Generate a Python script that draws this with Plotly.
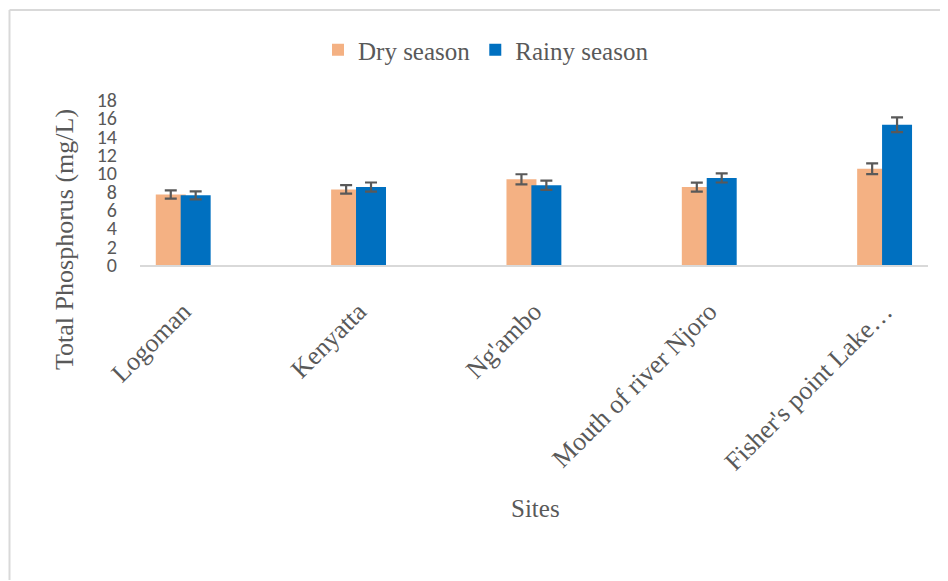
import plotly.graph_objects as go

sites = ["Logoman", "Kenyatta", "Ng'ambo", "Mouth of river Njoro", "Fisher's point Lake…"]
dry_values = [7.7, 8.25, 9.35, 8.5, 10.5]
rainy_values = [7.6, 8.5, 8.7, 9.5, 15.3]
dry_errors = [0.45, 0.47, 0.55, 0.49, 0.58]
rainy_errors = [0.43, 0.5, 0.5, 0.5, 0.8]
y_ticks = [0, 2, 4, 6, 8, 10, 12, 14, 16, 18]

serif = "Liberation Serif, Times New Roman, serif"
sans = "Carlito, Lato, sans-serif"
grey = "#595959"

# page body has an 8px margin: positions below are window pixels minus 8
L, T, W, H = 132, 92, 788, 165

def px(x):
    return (x - 8 - L) / W

def py(y):
    return (T + H - (y - 8)) / H

fig = go.Figure()
fig.add_trace(go.Bar(
    name="Dry season", x=list(range(len(sites))), y=dry_values,
    marker=dict(color="#F4B183", line=dict(width=0)),
    width=0.171, offset=-0.157,
    error_y=dict(type="data", array=dry_errors, visible=True,
                 color=grey, thickness=2.2, width=6),
))
fig.add_trace(go.Bar(
    name="Rainy season", x=list(range(len(sites))), y=rainy_values,
    marker=dict(color="#0070C0", line=dict(width=0)),
    width=0.171, offset=-0.015,
    error_y=dict(type="data", array=rainy_errors, visible=True,
                 color=grey, thickness=2.2, width=6),
))

frame = dict(color="#d9d9d9", width=2)

fig.update_layout(
    width=940, height=573,
    margin=dict(l=L, r=940 - L - W, t=T, b=573 - T - H),
    barmode="overlay",
    plot_bgcolor="white", paper_bgcolor="white",
    showlegend=True,
    legend=dict(orientation="h", x=px(486), xanchor="center", y=py(50), yanchor="middle",
                font=dict(family=serif, size=25, color=grey), itemwidth=30,
                traceorder="normal"),
    xaxis=dict(
        range=[-0.247, 4.247], tickmode="array", tickvals=list(range(len(sites))),
        ticktext=sites, tickangle=-45, showgrid=False, zeroline=False,
        showline=True, linecolor="#d9d9d9", linewidth=2, ticks="",
        tickfont=dict(family=serif, size=26, color=grey), ticklabelstandoff=19,
        fixedrange=True,
    ),
    yaxis=dict(
        range=[0, 18], tickmode="array", tickvals=y_ticks, showgrid=False,
        zeroline=False, showline=False, ticks="",
        tickfont=dict(family=sans, size=20, color=grey), ticklabelstandoff=22,
    ),
    annotations=[
        dict(text="Total Phosphorus (mg/L)", xref="paper", yref="paper",
             x=px(64), y=py(240), xanchor="center", yanchor="middle",
             textangle=-90, showarrow=False,
             font=dict(family=serif, size=26, color=grey)),
        dict(text="Sites", xref="paper", yref="paper",
             x=px(535), y=py(508), xanchor="center", yanchor="middle",
             showarrow=False,
             font=dict(family=serif, size=25, color=grey)),
    ],
    shapes=[
        dict(type="line", xref="paper", yref="paper",
             x0=px(9.5), x1=px(9.5), y0=py(580), y1=py(10), line=frame),
        dict(type="line", xref="paper", yref="paper",
             x0=px(9.5), x1=px(947), y0=py(10), y1=py(10), line=frame),
    ],
)

fig.write_html("out.html")
